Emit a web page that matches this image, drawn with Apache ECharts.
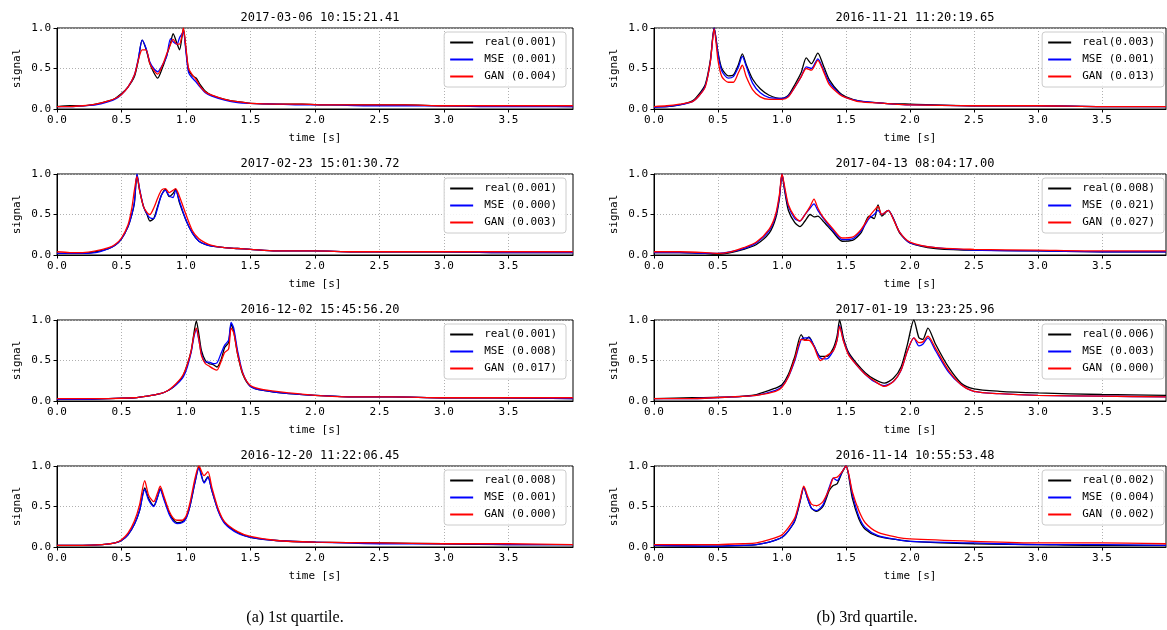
<!DOCTYPE html>
<html>
<head>
<meta charset="utf-8">
<script src="https://cdn.jsdelivr.net/npm/echarts@6/dist/echarts.min.js"></script>
<style>
  html, body { margin: 0; padding: 0; background: #fff; }
  #chart { width: 1167px; height: 630px; }
</style>
</head>
<body>
<div id="chart"></div>
<script>
// x 轴刻度
const timeTicks = [0, 0.5, 1.0, 1.5, 2.0, 2.5, 3.0, 3.5]
const signalTicks = [0, 0.5, 1.0]

// 标题 + 图例文字（左列 1st quartile，右列 3rd quartile）
const titles = [
  '2017-03-06 10:15:21.41', '2017-02-23 15:01:30.72', '2016-12-02 15:45:56.20', '2016-12-20 11:22:06.45',
  '2016-11-21 11:20:19.65', '2017-04-13 08:04:17.00', '2017-01-19 13:23:25.96', '2016-11-14 10:55:53.48'
]
const legendNames = [
  ['real(0.001)', 'MSE (0.001)', 'GAN (0.004)'],
  ['real(0.001)', 'MSE (0.000)', 'GAN (0.003)'],
  ['real(0.001)', 'MSE (0.008)', 'GAN (0.017)'],
  ['real(0.008)', 'MSE (0.001)', 'GAN (0.000)'],
  ['real(0.003)', 'MSE (0.001)', 'GAN (0.013)'],
  ['real(0.008)', 'MSE (0.021)', 'GAN (0.027)'],
  ['real(0.006)', 'MSE (0.003)', 'GAN (0.000)'],
  ['real(0.002)', 'MSE (0.004)', 'GAN (0.002)']
]

// ---- 左列 ----
const tL1 = [0, 0.1, 0.2, 0.3, 0.4, 0.45, 0.5, 0.55, 0.6, 0.63, 0.66, 0.69, 0.72, 0.75, 0.78, 0.82, 0.85, 0.88, 0.9, 0.93, 0.95, 0.97, 0.98, 1.0, 1.02, 1.05, 1.08, 1.11, 1.15, 1.2, 1.3, 1.4, 1.5, 1.7, 1.9, 2.1, 2.4, 2.7, 3.0, 3.3, 3.6, 4.0]
const l1Real = [0.03, 0.04, 0.04, 0.06, 0.1, 0.13, 0.19, 0.27, 0.4, 0.6, 0.85, 0.74, 0.56, 0.45, 0.38, 0.52, 0.66, 0.81, 0.93, 0.81, 0.73, 0.9, 0.99, 0.73, 0.48, 0.41, 0.38, 0.3, 0.22, 0.17, 0.12, 0.09, 0.07, 0.06, 0.06, 0.05, 0.05, 0.05, 0.04, 0.04, 0.04, 0.03]
const l1Mse = [0.03, 0.03, 0.04, 0.05, 0.09, 0.12, 0.18, 0.27, 0.42, 0.62, 0.85, 0.75, 0.58, 0.5, 0.46, 0.55, 0.65, 0.87, 0.83, 0.8, 0.88, 0.93, 0.96, 0.7, 0.45, 0.38, 0.33, 0.27, 0.2, 0.16, 0.11, 0.08, 0.07, 0.06, 0.05, 0.05, 0.04, 0.04, 0.04, 0.03, 0.03, 0.03]
const l1Gan = [0.03, 0.03, 0.04, 0.06, 0.1, 0.13, 0.18, 0.27, 0.42, 0.6, 0.73, 0.73, 0.56, 0.48, 0.43, 0.55, 0.68, 0.8, 0.86, 0.8, 0.8, 0.92, 1.0, 0.75, 0.5, 0.42, 0.36, 0.28, 0.21, 0.17, 0.12, 0.09, 0.07, 0.06, 0.06, 0.05, 0.05, 0.05, 0.04, 0.04, 0.04, 0.04]

const tL2 = [0, 0.1, 0.2, 0.3, 0.4, 0.45, 0.5, 0.55, 0.58, 0.6, 0.62, 0.64, 0.67, 0.7, 0.72, 0.75, 0.78, 0.81, 0.84, 0.87, 0.9, 0.92, 0.95, 1.0, 1.05, 1.1, 1.15, 1.2, 1.3, 1.4, 1.5, 1.7, 2.0, 2.3, 2.6, 3.0, 3.4, 3.7, 4.0]
const l2Real = [0.02, 0.02, 0.02, 0.04, 0.08, 0.12, 0.2, 0.35, 0.5, 0.64, 0.99, 0.8, 0.6, 0.49, 0.42, 0.45, 0.6, 0.74, 0.81, 0.72, 0.76, 0.81, 0.64, 0.43, 0.27, 0.17, 0.13, 0.11, 0.09, 0.08, 0.07, 0.05, 0.05, 0.04, 0.04, 0.04, 0.03, 0.03, 0.03]
const l2Mse = [0.02, 0.02, 0.02, 0.03, 0.08, 0.12, 0.2, 0.35, 0.5, 0.66, 1.0, 0.82, 0.6, 0.5, 0.46, 0.45, 0.58, 0.74, 0.8, 0.73, 0.71, 0.8, 0.66, 0.43, 0.27, 0.17, 0.13, 0.11, 0.09, 0.08, 0.07, 0.05, 0.05, 0.04, 0.04, 0.04, 0.03, 0.03, 0.03]
const l2Gan = [0.04, 0.03, 0.03, 0.05, 0.09, 0.13, 0.21, 0.37, 0.58, 0.8, 0.97, 0.8, 0.6, 0.52, 0.5, 0.58, 0.7, 0.8, 0.82, 0.77, 0.8, 0.82, 0.72, 0.5, 0.3, 0.2, 0.15, 0.12, 0.09, 0.08, 0.07, 0.05, 0.05, 0.04, 0.04, 0.04, 0.04, 0.04, 0.04]

const tL3 = [0, 0.2, 0.4, 0.6, 0.7, 0.8, 0.85, 0.9, 0.95, 0.98, 1.01, 1.04, 1.06, 1.08, 1.1, 1.12, 1.15, 1.18, 1.21, 1.24, 1.27, 1.3, 1.33, 1.35, 1.37, 1.4, 1.44, 1.5, 1.6, 1.8, 2.0, 2.3, 2.6, 3.0, 3.4, 4.0]
const l3Real = [0.02, 0.02, 0.03, 0.04, 0.06, 0.09, 0.12, 0.17, 0.25, 0.32, 0.45, 0.62, 0.82, 0.99, 0.82, 0.62, 0.5, 0.46, 0.45, 0.42, 0.5, 0.66, 0.72, 0.95, 0.86, 0.58, 0.33, 0.18, 0.13, 0.09, 0.07, 0.05, 0.05, 0.04, 0.04, 0.03]
const l3Mse = [0.02, 0.02, 0.03, 0.04, 0.06, 0.09, 0.12, 0.17, 0.24, 0.3, 0.42, 0.6, 0.78, 0.88, 0.75, 0.58, 0.48, 0.48, 0.46, 0.47, 0.58, 0.69, 0.75, 0.97, 0.9, 0.62, 0.35, 0.18, 0.13, 0.09, 0.07, 0.05, 0.05, 0.04, 0.04, 0.03]
const l3Gan = [0.03, 0.03, 0.03, 0.04, 0.06, 0.09, 0.12, 0.18, 0.26, 0.33, 0.45, 0.62, 0.8, 0.9, 0.76, 0.56, 0.46, 0.43, 0.4, 0.38, 0.48, 0.6, 0.64, 0.9, 0.84, 0.58, 0.34, 0.19, 0.14, 0.1, 0.07, 0.05, 0.05, 0.04, 0.04, 0.04]

const tL4 = [0, 0.2, 0.35, 0.45, 0.5, 0.55, 0.6, 0.64, 0.68, 0.71, 0.75, 0.78, 0.8, 0.83, 0.87, 0.9, 0.93, 0.97, 1.0, 1.03, 1.07, 1.1, 1.14, 1.17, 1.2, 1.25, 1.3, 1.4, 1.5, 1.7, 2.0, 2.5, 3.0, 3.5, 4.0]
const l4Real = [0.02, 0.02, 0.03, 0.05, 0.08, 0.15, 0.28, 0.45, 0.73, 0.6, 0.51, 0.62, 0.72, 0.6, 0.42, 0.34, 0.3, 0.31, 0.36, 0.5, 0.8, 0.99, 0.8, 0.87, 0.7, 0.45, 0.3, 0.18, 0.12, 0.08, 0.06, 0.05, 0.04, 0.03, 0.03]
const l4Mse = [0.02, 0.02, 0.03, 0.05, 0.08, 0.15, 0.28, 0.45, 0.71, 0.58, 0.5, 0.62, 0.71, 0.58, 0.4, 0.32, 0.29, 0.3, 0.35, 0.5, 0.8, 0.97, 0.79, 0.86, 0.7, 0.44, 0.29, 0.17, 0.12, 0.08, 0.06, 0.04, 0.04, 0.03, 0.03]
const l4Gan = [0.02, 0.02, 0.03, 0.05, 0.09, 0.17, 0.32, 0.52, 0.82, 0.64, 0.56, 0.67, 0.75, 0.62, 0.44, 0.36, 0.33, 0.33, 0.38, 0.54, 0.85, 1.0, 0.88, 0.93, 0.74, 0.47, 0.31, 0.19, 0.13, 0.08, 0.06, 0.05, 0.04, 0.04, 0.03]

// ---- 右列 ----
const tR1 = [0, 0.1, 0.2, 0.3, 0.35, 0.4, 0.44, 0.47, 0.5, 0.53, 0.58, 0.62, 0.66, 0.69, 0.72, 0.77, 0.83, 0.9, 1.0, 1.05, 1.1, 1.15, 1.19, 1.23, 1.28, 1.32, 1.37, 1.45, 1.5, 1.6, 1.8, 2.0, 2.5, 3.0, 3.5, 4.0]
const r1Real = [0.03, 0.03, 0.05, 0.1, 0.18, 0.3, 0.6, 1.0, 0.7, 0.5, 0.41, 0.42, 0.55, 0.68, 0.55, 0.37, 0.25, 0.17, 0.13, 0.17, 0.3, 0.45, 0.63, 0.56, 0.69, 0.55, 0.36, 0.2, 0.15, 0.1, 0.07, 0.06, 0.04, 0.04, 0.03, 0.03]
const r1Mse = [0.02, 0.03, 0.05, 0.09, 0.16, 0.28, 0.58, 1.0, 0.68, 0.47, 0.38, 0.4, 0.52, 0.65, 0.53, 0.32, 0.2, 0.14, 0.13, 0.16, 0.27, 0.4, 0.52, 0.5, 0.62, 0.5, 0.33, 0.19, 0.14, 0.1, 0.07, 0.05, 0.04, 0.04, 0.03, 0.03]
const r1Gan = [0.03, 0.04, 0.06, 0.09, 0.16, 0.27, 0.58, 0.99, 0.6, 0.4, 0.33, 0.33, 0.45, 0.54, 0.4, 0.24, 0.15, 0.12, 0.12, 0.15, 0.27, 0.4, 0.5, 0.48, 0.6, 0.48, 0.3, 0.18, 0.14, 0.09, 0.07, 0.05, 0.04, 0.04, 0.03, 0.03]

const tR2 = [0, 0.2, 0.4, 0.5, 0.6, 0.7, 0.8, 0.9, 0.95, 0.98, 1.0, 1.02, 1.05, 1.1, 1.14, 1.18, 1.22, 1.25, 1.28, 1.32, 1.4, 1.47, 1.55, 1.62, 1.68, 1.72, 1.75, 1.78, 1.83, 1.87, 1.92, 2.0, 2.2, 2.5, 3.0, 3.5, 4.0]
const r2Real = [0.03, 0.03, 0.02, 0.01, 0.03, 0.07, 0.13, 0.27, 0.45, 0.7, 1.0, 0.8, 0.55, 0.4, 0.35, 0.42, 0.5, 0.47, 0.48, 0.42, 0.28, 0.17, 0.18, 0.28, 0.48, 0.45, 0.62, 0.48, 0.55, 0.45, 0.27, 0.15, 0.08, 0.06, 0.05, 0.04, 0.04]
const r2Mse = [0.03, 0.03, 0.02, 0.02, 0.04, 0.08, 0.15, 0.3, 0.48, 0.72, 1.0, 0.82, 0.6, 0.45, 0.42, 0.5, 0.58, 0.63, 0.55, 0.46, 0.3, 0.19, 0.2, 0.3, 0.45, 0.5, 0.55, 0.5, 0.55, 0.45, 0.28, 0.15, 0.09, 0.06, 0.05, 0.04, 0.04]
const r2Gan = [0.04, 0.04, 0.03, 0.02, 0.04, 0.09, 0.16, 0.32, 0.5, 0.75, 1.0, 0.85, 0.62, 0.47, 0.42, 0.5, 0.6, 0.69, 0.58, 0.47, 0.32, 0.21, 0.22, 0.32, 0.47, 0.55, 0.6, 0.5, 0.55, 0.44, 0.28, 0.16, 0.09, 0.07, 0.06, 0.05, 0.05]

const tR3 = [0, 0.3, 0.6, 0.8, 0.95, 1.0, 1.05, 1.1, 1.15, 1.18, 1.21, 1.25, 1.3, 1.35, 1.4, 1.43, 1.45, 1.48, 1.52, 1.58, 1.65, 1.72, 1.8, 1.87, 1.93, 1.98, 2.03, 2.07, 2.1, 2.14, 2.2, 2.3, 2.4, 2.5, 2.7, 3.0, 3.5, 4.0]
const r3Real = [0.03, 0.04, 0.05, 0.08, 0.16, 0.2, 0.33, 0.55, 0.82, 0.75, 0.79, 0.68, 0.55, 0.55, 0.65, 0.8, 1.0, 0.78, 0.6, 0.47, 0.35, 0.27, 0.22, 0.28, 0.42, 0.7, 1.0, 0.78, 0.76, 0.9, 0.7, 0.42, 0.22, 0.15, 0.12, 0.1, 0.08, 0.07]
const r3Mse = [0.03, 0.03, 0.05, 0.07, 0.13, 0.18, 0.3, 0.5, 0.76, 0.78, 0.78, 0.68, 0.53, 0.52, 0.62, 0.75, 0.93, 0.75, 0.58, 0.45, 0.33, 0.24, 0.19, 0.24, 0.38, 0.62, 0.78, 0.68, 0.7, 0.78, 0.62, 0.36, 0.2, 0.12, 0.09, 0.07, 0.06, 0.05]
const r3Gan = [0.03, 0.03, 0.05, 0.07, 0.12, 0.17, 0.3, 0.52, 0.76, 0.75, 0.75, 0.67, 0.5, 0.56, 0.62, 0.75, 0.92, 0.74, 0.57, 0.45, 0.33, 0.25, 0.18, 0.24, 0.38, 0.62, 0.78, 0.72, 0.73, 0.8, 0.65, 0.38, 0.2, 0.12, 0.09, 0.07, 0.06, 0.05]

const tR4 = [0, 0.5, 0.7, 0.8, 0.9, 1.0, 1.05, 1.1, 1.14, 1.17, 1.2, 1.23, 1.27, 1.32, 1.37, 1.4, 1.43, 1.47, 1.5, 1.55, 1.6, 1.65, 1.75, 1.9, 2.0, 2.5, 3.0, 3.5, 4.0]
const r4Real = [0.02, 0.01, 0.02, 0.03, 0.06, 0.12, 0.2, 0.32, 0.55, 0.74, 0.6, 0.48, 0.44, 0.5, 0.7, 0.76, 0.78, 0.92, 1.0, 0.6, 0.35, 0.22, 0.13, 0.09, 0.07, 0.04, 0.03, 0.02, 0.02]
const r4Mse = [0.02, 0.01, 0.02, 0.03, 0.06, 0.12, 0.2, 0.33, 0.56, 0.73, 0.6, 0.48, 0.45, 0.52, 0.74, 0.85, 0.82, 0.93, 1.0, 0.65, 0.38, 0.24, 0.14, 0.09, 0.07, 0.05, 0.03, 0.03, 0.02]
const r4Gan = [0.03, 0.03, 0.04, 0.05, 0.09, 0.15, 0.24, 0.36, 0.58, 0.75, 0.63, 0.53, 0.51, 0.56, 0.72, 0.85, 0.86, 0.93, 1.0, 0.68, 0.45, 0.3, 0.18, 0.12, 0.1, 0.07, 0.05, 0.05, 0.04]

const panelTimes = [tL1, tL2, tL3, tL4, tR1, tR2, tR3, tR4]
const panelValues = [
  [l1Real, l1Mse, l1Gan], [l2Real, l2Mse, l2Gan], [l3Real, l3Mse, l3Gan], [l4Real, l4Mse, l4Gan],
  [r1Real, r1Mse, r1Gan], [r2Real, r2Mse, r2Gan], [r3Real, r3Mse, r3Gan], [r4Real, r4Mse, r4Gan]
]

// 样式
const lineColors = ['#000000', '#0000ff', '#ff0000']
const mono = 'DejaVu Sans Mono'
const rowTops = [28, 174, 320, 466]
const rowHeight = 81
const colLeft = [57, 654]
const colWidth = [516, 512]

let myChart = echarts.init(document.getElementById('chart'), null, { renderer: 'canvas' })

let grids = [], xAxes = [], yAxes = [], series = [], legends = [], titleList = []

for (let p = 0; p < 8; p++) {
  let col = p < 4 ? 0 : 1
  let row = p % 4
  let top = rowTops[row]

  grids.push({
    left: colLeft[col], top: top, width: colWidth[col], height: rowHeight,
    show: true, borderColor: '#000', borderWidth: 1, backgroundColor: 'transparent'
  })

  xAxes.push({
    type: 'value', gridIndex: p, min: 0, max: 4, interval: 0.5,
    name: 'time [s]', nameLocation: 'middle', nameGap: 24,
    nameTextStyle: { fontFamily: mono, fontSize: 11, color: '#000' },
    axisLine: { show: true, onZero: false, lineStyle: { color: '#000', width: 1 } },
    axisTick: { show: true, length: 3.5, customValues: timeTicks, lineStyle: { color: '#000' } },
    axisLabel: {
      customValues: timeTicks, margin: 6, fontFamily: mono, fontSize: 11, color: '#000',
      formatter: v => v.toFixed(1)
    },
    splitLine: { show: true, lineStyle: { color: '#b0b0b0', type: [1, 2], width: 1 } }
  })

  yAxes.push({
    type: 'value', gridIndex: p, min: 0, max: 1, interval: 0.5,
    name: 'signal', nameLocation: 'middle', nameGap: 34, nameRotate: 90,
    nameTextStyle: { fontFamily: mono, fontSize: 11, color: '#000' },
    axisLine: { show: true, lineStyle: { color: '#000', width: 1 } },
    axisTick: { show: true, length: 3.5, lineStyle: { color: '#000' } },
    axisLabel: { margin: 6, fontFamily: mono, fontSize: 11, color: '#000', formatter: v => v.toFixed(1) },
    splitLine: { show: true, lineStyle: { color: '#b0b0b0', type: [1, 2], width: 1 } }
  })

  // 三条曲线：real / MSE / GAN
  for (let s = 0; s < 3; s++) {
    let t = panelTimes[p]
    let v = panelValues[p][s]
    series.push({
      name: legendNames[p][s],
      type: 'line', xAxisIndex: p, yAxisIndex: p,
      data: t.map((x, i) => [x, v[i]]),
      symbol: 'none', smooth: 0.25, silent: true, animation: false,
      lineStyle: { color: lineColors[s], width: 1.3 },
      itemStyle: { color: lineColors[s] },
      z: 2 + s
    })
  }

  legends.push({
    data: legendNames[p],
    orient: 'vertical',
    right: col === 0 ? 601 : 3,
    top: top + 4,
    itemWidth: 23, itemHeight: 12, itemGap: 6,
    padding: [5, 9, 5, 5],
    backgroundColor: 'rgba(255,255,255,0.85)',
    borderColor: '#cccccc', borderWidth: 1, borderRadius: 3,
    // 只显示线段，不显示圆点
    itemStyle: { opacity: 0 },
    textStyle: { fontFamily: mono, fontSize: 11, color: '#000', padding: [0, 0, 0, 6] },
    selectedMode: false
  })

  titleList.push({
    text: titles[p],
    left: colLeft[col] + colWidth[col] / 2, top: top - 21,
    textAlign: 'center',
    textStyle: { fontFamily: mono, fontSize: 12, fontWeight: 'normal', color: '#000' }
  })
}

// 子图说明
titleList.push({
  text: '(a) 1st quartile.', left: 290, top: 605, textAlign: 'center',
  textStyle: { fontFamily: 'Liberation Serif', fontSize: 16, fontWeight: 'normal', color: '#000' }
})
titleList.push({
  text: '(b) 3rd quartile.', left: 862, top: 605, textAlign: 'center',
  textStyle: { fontFamily: 'Liberation Serif', fontSize: 16, fontWeight: 'normal', color: '#000' }
})

let option = {
  backgroundColor: '#fff',
  animation: false,
  title: titleList,
  legend: legends,
  grid: grids,
  xAxis: xAxes,
  yAxis: yAxes,
  series: series
}

myChart.setOption(option)

window.addEventListener('resize', function () {
  myChart.resize()
})
</script>
</body>
</html>
